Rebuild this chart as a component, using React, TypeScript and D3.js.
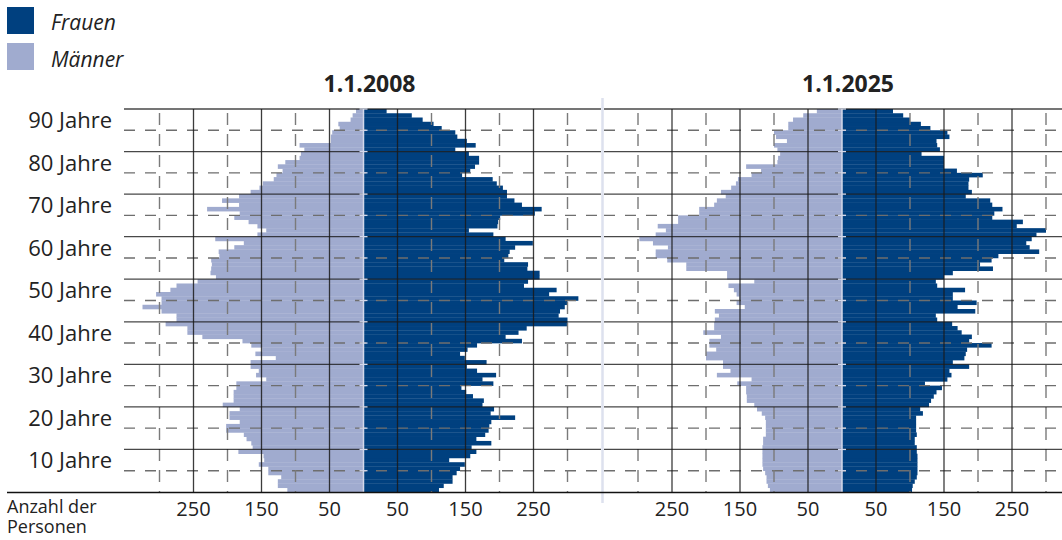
import React from "react";
import * as d3 from "d3";

// ages 0..89, values in persons
const ages: number[] = d3.range(0, 90);

const men2008: number[] = [
  112, 126, 126, 121, 140, 140, 154, 146, 147, 184,
  163, 165, 172, 176, 202, 202, 182, 197, 197, 182,
  207, 191, 191, 191, 187, 187, 143, 158, 154, 166,
  166, 129, 159, 149, 165, 178, 237, 259, 259, 291,
  275, 275, 297, 325, 297, 297, 305, 284, 275, 244,
  217, 225, 224, 223, 224, 212, 213, 190, 176, 218,
  156, 143, 156, 169, 190, 182, 230, 183, 208, 183,
  166, 153, 148, 132, 128, 119, 126, 115, 94, 92,
  87, 94, 48, 48, 46, 35, 37, 19, 16, 11,
];
const women2008: number[] = [
  111, 118, 131, 131, 137, 142, 149, 126, 157, 166,
  159, 188, 166, 179, 184, 185, 188, 223, 187, 192,
  175, 177, 161, 151, 144, 191, 175, 195, 167, 152,
  181, 149, 142, 153, 167, 233, 209, 228, 240, 300,
  300, 287, 289, 296, 300, 316, 273, 284, 236, 242,
  259, 259, 241, 242, 207, 213, 215, 223, 249, 209,
  191, 155, 197, 198, 201, 252, 262, 233, 222, 211,
  211, 205, 196, 190, 145, 157, 164, 170, 170, 155,
  135, 165, 152, 138, 135, 115, 103, 87, 71, 34,
];
const men2025: number[] = [
  106, 109, 111, 111, 113, 116, 117, 117, 117, 117,
  117, 116, 116, 112, 112, 112, 112, 113, 118, 125,
  129, 140, 140, 141, 141, 154, 133, 184, 164, 175,
  175, 200, 200, 185, 195, 195, 178, 204, 188, 188,
  187, 181, 187, 143, 155, 151, 155, 159, 167, 129,
  169, 169, 229, 229, 257, 274, 274, 256, 278, 298,
  274, 259, 271, 241, 241, 210, 210, 188, 184, 171,
  178, 163, 156, 153, 133, 119, 141, 95, 94, 91,
  95, 100, 81, 97, 100, 79, 79, 72, 57, 37,
];
const women2025: number[] = [
  103, 104, 107, 110, 111, 111, 111, 111, 111, 110,
  110, 107, 107, 110, 109, 109, 109, 109, 119, 115,
  128, 131, 135, 139, 147, 122, 155, 161, 158, 187,
  163, 180, 182, 184, 220, 187, 191, 176, 170, 162,
  140, 138, 196, 170, 198, 163, 163, 181, 140, 138,
  150, 163, 222, 203, 220, 230, 290, 276, 271, 279,
  286, 300, 257, 266, 221, 224, 236, 221, 218, 182,
  191, 186, 186, 187, 207, 169, 150, 150, 150, 117,
  144, 140, 139, 158, 155, 130, 116, 100, 90, 75,
];

const panelTitles: string[] = ["1.1.2008", "1.1.2025"];
const ageLabels: number[] = [10, 20, 30, 40, 50, 60, 70, 80, 90];
const xTickLabels: number[] = [-250, -150, -50, 50, 150, 250];
const solidX: number[] = [-250, -150, -50, 50, 150, 250];
const dashedX: number[] = [-300, -200, -100, 100, 200, 300];
const solidAges: number[] = [10, 20, 30, 40, 50, 60, 70, 80, 90];
const dashedAges: number[] = [5, 15, 25, 35, 45, 55, 65, 75, 85];
const legendItems: string[] = ["Frauen", "Männer"];
const axisTitleLines: string[] = ["Anzahl der", "Personen"];

const DARK = "#00407f";
const LIGHT = "#a0abcf";
const TEXT = "#222";
const FONT = "'Open Sans', sans-serif";

const W = 1062;
const H = 540;

const y = d3.scaleLinear().domain([0, 90]).range([492, 109]);
const barH = y(0) - y(1);

type Panel = { title: string; men: number[]; women: number[]; x: d3.ScaleLinear<number, number>; x0: number; x1: number };

const panels: Panel[] = [
  { title: panelTitles[0], men: men2008, women: women2008, x: d3.scaleLinear().domain([-350, 350]).range([363.5 - 238, 363.5 + 238]), x0: 124, x1: 601 },
  { title: panelTitles[1], men: men2025, women: women2025, x: d3.scaleLinear().domain([-350, 350]).range([842 - 238, 842 + 238]), x0: 604, x1: W },
];

function PanelView({ p }: { p: Panel }) {
  const cx = p.x(0);
  return (
    <g>
      {/* bars */}
      {ages.map((a, i) => (
        <rect key={"m" + a} x={p.x(-p.men[i])} y={y(a + 1)} width={cx - p.x(-p.men[i])} height={barH + 0.3} fill={LIGHT} />
      ))}
      {ages.map((a, i) => (
        <rect key={"w" + a} x={cx} y={y(a + 1)} width={p.x(p.women[i]) - cx} height={barH + 0.3} fill={DARK} />
      ))}
      {/* horizontal dashed */}
      {dashedAges.map((a) => (
        <line key={"hd" + a} x1={p.x0} x2={p.x1} y1={y(a)} y2={y(a)} stroke="#6e6e6e" strokeWidth={1.4} strokeDasharray="11,10" />
      ))}
      {/* vertical dashed */}
      {dashedX.map((v) => (
        <line key={"vd" + v} x1={p.x(v)} x2={p.x(v)} y1={y(90)} y2={y(0)} stroke="#7a7a7a" strokeWidth={1.4} strokeDasharray="12,9" strokeDashoffset={-4} />
      ))}
      {/* horizontal solid */}
      {solidAges.map((a) => (
        <line key={"hs" + a} x1={p.x0} x2={p.x1} y1={y(a)} y2={y(a)} stroke="#1a1a1a" strokeOpacity={0.8} strokeWidth={1.3} />
      ))}
      {/* vertical solid */}
      {solidX.map((v) => (
        <line key={"vs" + v} x1={p.x(v)} x2={p.x(v)} y1={y(90)} y2={y(0)} stroke="#1a1a1a" strokeOpacity={0.85} strokeWidth={1.3} />
      ))}
      {/* center axis with light ticks */}
      <line x1={cx} x2={cx} y1={y(90)} y2={y(0)} stroke="#d3d8ea" strokeWidth={1.5} />
      {[...solidAges, ...dashedAges].map((a) => (
        <line key={"ct" + a} x1={cx - 4} x2={cx + 4} y1={y(a)} y2={y(a)} stroke="#d3d8ea" strokeWidth={1.3} />
      ))}
      {/* title */}
      <text x={cx + 6} y={91.5} textAnchor="middle" fontFamily={FONT} fontWeight={700} fontSize={23} fill={TEXT}>
        {p.title}
      </text>
      {/* x tick labels */}
      {xTickLabels.map((v) => (
        <text key={"xt" + v} x={p.x(v)} y={516} textAnchor="middle" fontFamily={FONT} fontSize={20} fill={TEXT}>
          {Math.abs(v)}
        </text>
      ))}
    </g>
  );
}

export default function App() {
  return (
    <svg width={W} height={H} style={{ display: "block", position: "absolute", left: 0, top: 0 }}>
      <rect width={W} height={H} fill="#fff" />
      {/* legend */}
      {legendItems.map((t, i) => (
        <g key={t}>
          <rect x={7} y={7 + i * 36} width={27} height={27} fill={i === 0 ? DARK : LIGHT} />
          <text x={51} y={30 + i * 37} fontFamily={FONT} fontStyle="italic" fontSize={21} fill={TEXT}>
            {t}
          </text>
        </g>
      ))}
      {panels.map((p) => (
        <PanelView key={p.title} p={p} />
      ))}
      {/* separator */}
      <line x1={602.5} x2={602.5} y1={98} y2={503} stroke="#dde1ee" strokeWidth={2.5} />
      {/* bottom axis */}
      <line x1={7} x2={W} y1={y(0) + 0.5} y2={y(0) + 0.5} stroke="#111" strokeWidth={1.5} />
      {/* age labels */}
      {ageLabels.map((a) => (
        <text key={"al" + a} x={112} y={y(a) + 19} textAnchor="end" fontFamily={FONT} fontSize={22} fill={TEXT}>
          {a} Jahre
        </text>
      ))}
      <text x={7} y={513} fontFamily={FONT} fontSize={18} fill={TEXT}>
        {axisTitleLines.map((t, i) => (
          <tspan key={t} x={7} dy={i === 0 ? 0 : 20}>
            {t}
          </tspan>
        ))}
      </text>
    </svg>
  );
}
